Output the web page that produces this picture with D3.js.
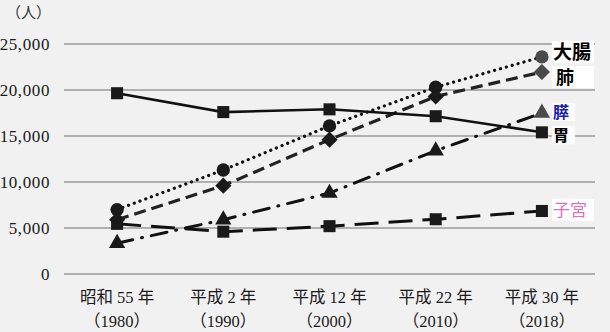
<!DOCTYPE html>
<html><head><meta charset="utf-8">
<script src="https://cdn.jsdelivr.net/npm/d3@7"></script>
<style>
html,body{margin:0;padding:0;background:#f1f1f1;}
svg{display:block;}
</style></head>
<body>
<svg id="c" width="610" height="332"></svg>
<script>
const categories = ["昭和 55 年|（1980）","平成 2 年|（1990）","平成 12 年|（2000）","平成 22 年|（2010）","平成 30 年|（2018）"];
const yTicks = [0,5000,10000,15000,20000,25000];
const colon = [7000,11300,16100,20300,23600];
const lung = [5900,9600,14600,19300,21950];
const pancreas = [3350,5900,8800,13400,17500];
const stomach = [19650,17600,17900,17150,15400];
const uterus = [5450,4600,5200,5950,6850];
const seriesNames = ["大腸","肺","膵","胃","子宮"];
const labelColors = ["#000","#000","#1a1ab0","#000","#e070b8"];

const svg = d3.select("#c");
const x = d3.scalePoint().domain(categories).range([64,595]).padding(0.5);
const y = d3.scaleLinear().domain([0,25000]).range([274,44]);

// grid
svg.append("g").selectAll("line").data(yTicks).join("line")
  .attr("x1",64).attr("x2",595)
  .attr("y1",d=>y(d)).attr("y2",d=>y(d))
  .attr("stroke","#9a9a9a").attr("stroke-width",1.5);

// y tick labels
const yAxis = d3.axisLeft(y).tickValues(yTicks).tickSize(0).tickPadding(0)
  .tickFormat(d=>d3.format(",")(d));
const ga = svg.append("g").attr("transform","translate(50,0)").call(yAxis);
ga.select(".domain").remove();
ga.selectAll("text").attr("font-family","'Liberation Serif','DejaVu Serif',serif")
  .attr("font-size",17).attr("letter-spacing",0.6).attr("fill","#1a1a1a").attr("dy","0.35em");

svg.append("text").attr("x",6).attr("y",18).text("（人）")
  .attr("font-family","'Noto Sans CJK JP',serif").attr("font-size",15).attr("fill","#333");

// x labels
const xl = svg.append("g");
categories.forEach(c=>{
  const parts = c.split("|");
  const t = xl.append("text").attr("x",x(c)).attr("text-anchor","middle")
    .attr("font-family","'Liberation Serif','Noto Sans CJK JP',serif").attr("font-size",16.5).attr("fill","#1a1a1a");
  t.append("tspan").attr("x",x(c)).attr("y",303).text(parts[0]);
  t.append("tspan").attr("x",x(c)).attr("y",327).text(parts[1]);
});

const line = d3.line().x((d,i)=>x(categories[i])).y(d=>y(d));
const series = [
  {data:colon, dash:"0.1 6", width:3.2, cap:"round", color:"#111", marker:"circle"},
  {data:lung, dash:"12 6", width:3.2, cap:"butt", color:"#222", marker:"diamond"},
  {data:pancreas, dash:"16 9 1 9", width:3, cap:"round", color:"#111", marker:"triangle"},
  {data:stomach, dash:null, width:2.6, cap:"butt", color:"#111", marker:"square"},
  {data:uterus, dash:"24 10", width:3, cap:"butt", color:"#111", marker:"square"}
];

series.forEach(s=>{
  svg.append("path").datum(s.data).attr("d",line).attr("fill","none")
    .attr("stroke",s.color).attr("stroke-width",s.width)
    .attr("stroke-linecap",s.cap)
    .attr("stroke-dasharray",s.dash);
});

const symTypes = {circle:d3.symbolCircle, diamond:d3.symbolSquare, triangle:d3.symbolTriangle, square:d3.symbolSquare};
const symSizes = {circle:140, diamond:130, triangle:115, square:145};
series.forEach(s=>{
  svg.append("g").selectAll("path").data(s.data).join("path")
    .attr("d", d3.symbol().type(symTypes[s.marker]).size(symSizes[s.marker]))
    .attr("transform",(d,i)=>`translate(${x(categories[i])},${y(d)})`+(s.marker==="diamond"?" rotate(45)":""))
    .attr("fill",(d,i)=> i===4 && (s.marker==="circle"||s.marker==="diamond"||s.marker==="triangle") ? "#4a4a4a" : "#1a1a1a");
});

// end labels
const labelY = [colon[4], lung[4], pancreas[4], stomach[4], uterus[4]];
const offsets = [-5, 5, -1, 3, -1];
const sizes = [19, 18, 16, 16, 17];
seriesNames.forEach((n,i)=>{
  const lx = x(categories[4]) + 11;
  const ly = y(labelY[i]) + offsets[i];
  if (i !== 2 && i !== 3) {
    svg.append("rect").attr("x",lx-1).attr("y",ly-11).attr("width",42).attr("height",22).attr("fill","#fff");
  } else {
    svg.append("rect").attr("x",lx-1).attr("y",ly-9).attr("width",23).attr("height",18).attr("fill","#fff");
  }
  svg.append("text").attr("x",lx+ (i===1?3:0)).attr("y",ly).attr("dy","0.36em").text(n)
    .attr("font-family","'Noto Sans CJK JP',sans-serif")
    .attr("font-size",sizes[i]).attr("font-weight", i===4 ? 400 : 700).attr("fill",labelColors[i]);
});
</script>
</body></html>
